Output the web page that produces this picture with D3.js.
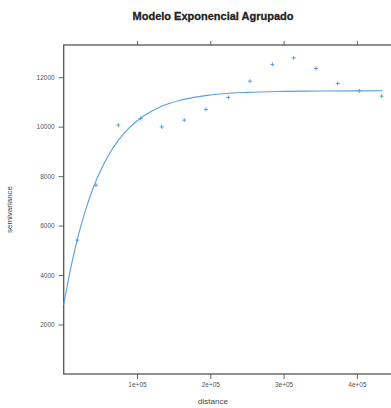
<!DOCTYPE html>
<html>
<head>
<meta charset="utf-8">
<script src="https://cdn.jsdelivr.net/npm/d3@7"></script>
<style>
  body { margin: 0; background: #fff; }
  svg { display: block; font-family: "Liberation Sans", Arial, sans-serif; }
</style>
</head>
<body>
<svg id="chart" width="391" height="408"></svg>
<script>
// empirical semivariogram (binned)
const distances   = [18500, 44000, 74500, 105000, 133700, 164500, 194100, 224600, 254200, 284700, 313800, 344200, 373800, 403300, 433800];
const semivariance = [5414, 7636, 10060, 10330, 9990, 10263, 10695, 11180, 11838, 12513, 12780, 12351, 11745, 11446, 11232];

// fitted exponential model
const curveDist = [0, 10000, 20000, 30000, 40000, 50000, 60000, 75000, 90000, 110000, 130000, 160000, 200000, 250000, 300000, 350000, 400000, 435000];
const curveVal  = [2800, 4340, 5605, 6647, 7500, 8204, 8782, 9462, 9969, 10449, 10774, 11075, 11279, 11386, 11426, 11441, 11447, 11449];

const xTicks = [100000, 200000, 300000, 400000];
const yTicks = [2000, 4000, 6000, 8000, 10000, 12000];

const blue = '#5a9de6';
const svg = d3.select('#chart');

const L = 63.7, R = 400, T = 45, B = 374;
const x = d3.scaleLinear().domain([0, 458800]).range([L, R]);
const y = d3.scaleLinear().domain([0, 13300]).range([B, T]);

// ─── Title ─────────────────────────────
svg.append('text')
  .attr('x', 213).attr('y', 20)
  .attr('text-anchor', 'middle')
  .style('font-weight', 'bold').style('font-size', '11px')
  .attr('fill', '#222').attr('stroke', '#222').attr('stroke-width', 0.3)
  .text('Modelo Exponencial Agrupado');

// ─── Axes (lattice style) ──────────────
const fmtX = d => (d / 1e5) + 'e+05';

const axBottom = svg.append('g').attr('transform', `translate(0,${B})`)
  .call(d3.axisBottom(x).tickValues(xTicks).tickFormat(fmtX).tickSize(5).tickPadding(3));
const axTop = svg.append('g').attr('transform', `translate(0,${T})`)
  .call(d3.axisTop(x).tickValues(xTicks).tickFormat('').tickSize(4));
const axLeft = svg.append('g').attr('transform', `translate(${L},0)`)
  .call(d3.axisLeft(y).tickValues(yTicks).tickFormat(d3.format('d')).tickSize(5).tickPadding(4));

[axBottom, axTop, axLeft].forEach(g => {
  g.select('.domain').remove();
  g.selectAll('line').attr('stroke', '#666');
  g.selectAll('text').attr('fill', '#555').style('font-size', '6.5px');
});

// frame
svg.append('rect')
  .attr('x', L).attr('y', T).attr('width', R - L).attr('height', B - T)
  .attr('fill', 'none').attr('stroke', '#555').attr('stroke-width', 1.3);

// axis titles
svg.append('text')
  .attr('x', 213).attr('y', 404)
  .attr('text-anchor', 'middle').style('font-size', '8px').attr('fill', '#444')
  .text('distance');
svg.append('text')
  .attr('transform', `translate(12,${(T + B) / 2}) rotate(-90)`)
  .attr('text-anchor', 'middle').style('font-size', '8px').attr('fill', '#444')
  .text('semivariance');

// ─── Model curve ───────────────────────
const line = d3.line()
  .x((d, i) => x(curveDist[i]))
  .y(d => y(d))
  .curve(d3.curveMonotoneX);

svg.append('path')
  .datum(curveVal)
  .attr('d', line)
  .attr('fill', 'none')
  .attr('stroke', blue)
  .attr('stroke-width', 1.1);

// ─── Points (+) ────────────────────────
svg.selectAll('.pt')
  .data(distances)
  .enter().append('path')
    .attr('class', 'pt')
    .attr('transform', (d, i) => `translate(${x(d)},${y(semivariance[i])})`)
    .attr('d', 'M-2,0H2M0,-2V2')
    .attr('stroke', blue)
    .attr('stroke-width', 1);
</script>
</body>
</html>
